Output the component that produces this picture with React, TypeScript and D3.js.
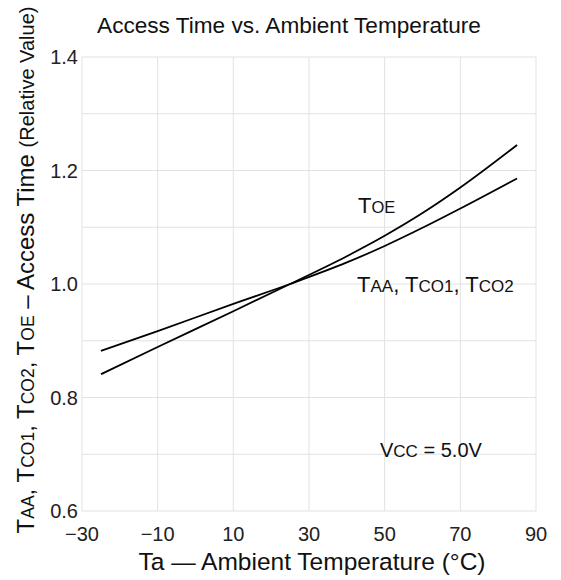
import React from 'react';
import * as d3 from 'd3';

// temperatures where the curves were read (deg C)
const temps = [-25, -10, 10, 25, 40, 50, 60, 70, 85];
// relative access time values
const toeValues = [0.841, 0.889, 0.952, 1.0, 1.049, 1.085, 1.125, 1.17, 1.245];
const taaValues = [0.882, 0.917, 0.965, 1.0, 1.038, 1.067, 1.099, 1.133, 1.186];

const xTicks = [-30, -10, 10, 30, 50, 70, 90];
const yTicks = [0.6, 0.8, 1.0, 1.2, 1.4];
const yGrid = [0.6, 0.7, 0.8, 0.9, 1.0, 1.1, 1.2, 1.3, 1.4];

const W = 561;
const H = 580;
const FONT = 'Liberation Sans, Arial, sans-serif';

export default function App() {
  const x = d3.scaleLinear().domain([-30, 90]).range([82, 536]);
  const y = d3.scaleLinear().domain([0.6, 1.4]).range([511, 57]);

  const line = d3
    .line<number>()
    .x((_, i) => x(temps[i]))
    .y((d) => y(d))
    .curve(d3.curveMonotoneX);

  const gridColor = '#e2e2e2';

  return (
    <svg
      width={W}
      height={H}
      style={{ position: 'absolute', left: 0, top: 0, background: '#fff' }}
      fontFamily={FONT}
    >
      {/* grid */}
      {yGrid.map((v) => (
        <line key={'h' + v} x1={82} x2={536} y1={y(v)} y2={y(v)} stroke={gridColor} strokeWidth={1} />
      ))}
      {xTicks.map((v) => (
        <line key={'v' + v} x1={x(v)} x2={x(v)} y1={57} y2={511} stroke={gridColor} strokeWidth={1} />
      ))}

      {/* curves */}
      <path d={line(toeValues) ?? ''} fill="none" stroke="#000" strokeWidth={1.8} />
      <path d={line(taaValues) ?? ''} fill="none" stroke="#000" strokeWidth={1.8} />

      {/* y tick labels */}
      {yTicks.map((v) => (
        <text key={'yt' + v} x={78} y={y(v) + 7} textAnchor="end" fontSize={20} fill="#222">
          {v.toFixed(1)}
        </text>
      ))}

      {/* x tick labels */}
      {xTicks.map((v) => (
        <text key={'xt' + v} x={x(v)} y={541} textAnchor="middle" fontSize={20} fill="#222">
          {v < 0 ? '\u2212' + Math.abs(v) : v}
        </text>
      ))}

      {/* titles */}
      <text x={289} y={33} textAnchor="middle" fontSize={22.6} fill="#111">
        Access Time vs. Ambient Temperature
      </text>
      <text x={312} y={570} textAnchor="middle" fontSize={24.5} fill="#111">
        Ta — Ambient Temperature (°C)
      </text>
      <text transform="translate(34,270) rotate(-90)" textAnchor="middle" fontSize={24} fill="#111">
        T<tspan fontSize={17.5}>AA</tspan>, T<tspan fontSize={17.5}>CO1</tspan>, T
        <tspan fontSize={17.5}>CO2</tspan>, T<tspan fontSize={17.5}>OE</tspan> – Access Time{' '}
        <tspan fontSize={20}>(Relative Value)</tspan>
      </text>

      {/* annotations */}
      <text x={358} y={213} fontSize={22} fill="#111">
        T<tspan fontSize={16.5}>OE</tspan>
      </text>
      <text x={357} y={292} fontSize={22} fill="#111">
        T<tspan fontSize={17}>AA</tspan>,  T<tspan fontSize={17}>CO1</tspan>,  T
        <tspan fontSize={17}>CO2</tspan>
      </text>
      <text x={380} y={457} fontSize={20} fill="#111">
        V<tspan fontSize={17}>CC</tspan> = 5.0V
      </text>
    </svg>
  );
}
